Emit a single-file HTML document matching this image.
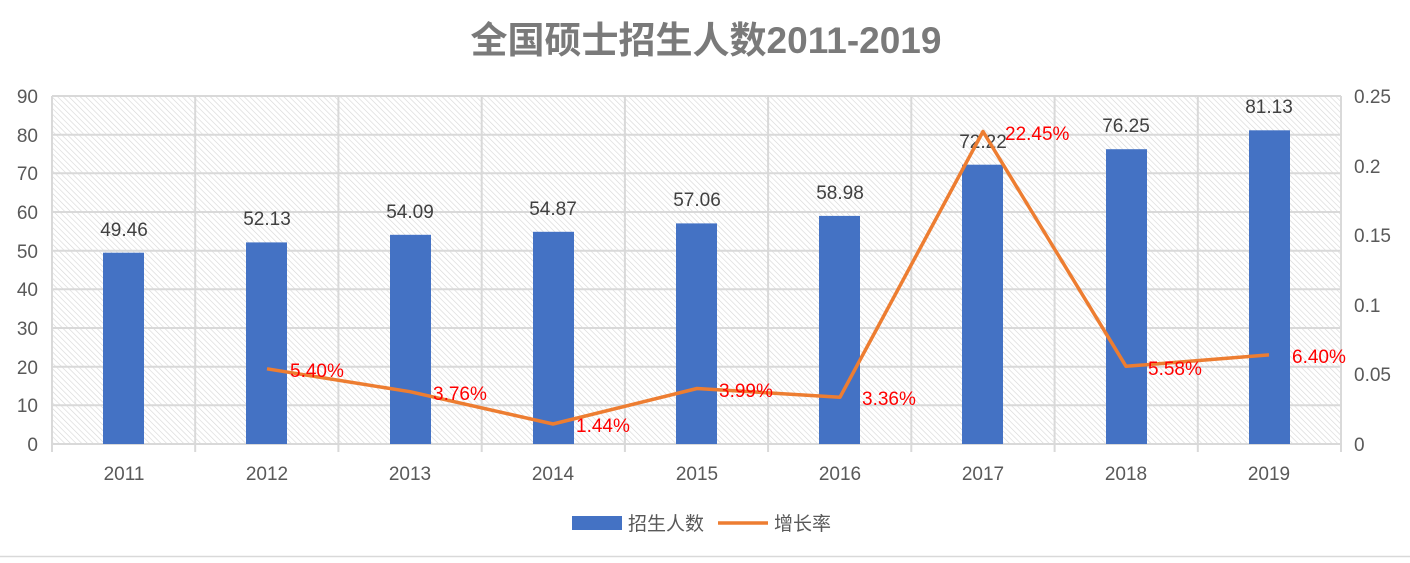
<!DOCTYPE html>
<html><head><meta charset="utf-8"><style>
html,body{margin:0;padding:0;background:#fff;}
svg text{font-family:"Liberation Sans","Noto Sans CJK SC",sans-serif;}
</style></head><body>
<svg width="1410" height="558" viewBox="0 0 1410 558" xmlns="http://www.w3.org/2000/svg">
<defs>
<pattern id="h" width="4" height="4" patternUnits="userSpaceOnUse" patternTransform="rotate(-45)">
<rect width="4" height="4" fill="#fff"/><line x1="0" y1="0" x2="0" y2="4" stroke="#d6d6d6" stroke-width="1.2"/>
</pattern>
</defs>
<text x="706" y="53" font-size="37" fill="#7a7a7a" text-anchor="middle" font-weight="bold">全国硕士招生人数2011-2019</text>
<rect x="52" y="96" width="1289" height="348" fill="url(#h)"/>
<g stroke="#d9d9d9" stroke-width="2">
<line x1="52" y1="96" x2="1341" y2="96"/><line x1="52" y1="134.7" x2="1341" y2="134.7"/><line x1="52" y1="173.3" x2="1341" y2="173.3"/><line x1="52" y1="212" x2="1341" y2="212"/><line x1="52" y1="250.7" x2="1341" y2="250.7"/><line x1="52" y1="289.3" x2="1341" y2="289.3"/><line x1="52" y1="328" x2="1341" y2="328"/><line x1="52" y1="366.7" x2="1341" y2="366.7"/><line x1="52" y1="405.3" x2="1341" y2="405.3"/><line x1="52" y1="444" x2="1341" y2="444"/>
<line x1="52" y1="96" x2="52" y2="452"/><line x1="195.2" y1="96" x2="195.2" y2="452"/><line x1="338.4" y1="96" x2="338.4" y2="452"/><line x1="481.7" y1="96" x2="481.7" y2="452"/><line x1="624.9" y1="96" x2="624.9" y2="452"/><line x1="768.1" y1="96" x2="768.1" y2="452"/><line x1="911.3" y1="96" x2="911.3" y2="452"/><line x1="1054.6" y1="96" x2="1054.6" y2="452"/><line x1="1197.8" y1="96" x2="1197.8" y2="452"/><line x1="1341" y1="96" x2="1341" y2="452"/>
</g>
<g font-size="19" fill="#595959" text-anchor="end">
<text x="38" y="103">90</text><text x="38" y="142">80</text><text x="38" y="180">70</text><text x="38" y="219">60</text><text x="38" y="258">50</text><text x="38" y="296">40</text><text x="38" y="335">30</text><text x="38" y="374">20</text><text x="38" y="412">10</text><text x="38" y="451">0</text>
</g>
<g font-size="19" fill="#595959" text-anchor="start">
<text x="1354" y="103">0.25</text><text x="1354" y="173">0.2</text><text x="1354" y="242">0.15</text><text x="1354" y="312">0.1</text><text x="1354" y="381">0.05</text><text x="1354" y="451">0</text>
</g>
<g fill="#4472c4">
<rect x="103" y="252.7" width="41" height="191.3"/>
<rect x="246" y="242.4" width="41" height="201.6"/>
<rect x="390" y="234.8" width="41" height="209.2"/>
<rect x="533" y="231.8" width="41" height="212.2"/>
<rect x="676" y="223.4" width="41" height="220.6"/>
<rect x="819" y="215.9" width="41" height="228.1"/>
<rect x="962" y="164.7" width="41" height="279.3"/>
<rect x="1106" y="149.2" width="41" height="294.8"/>
<rect x="1249" y="130.3" width="41" height="313.7"/>
</g>
<g font-size="19" fill="#404040" text-anchor="middle">
<text x="124" y="236">49.46</text><text x="267" y="225">52.13</text><text x="410" y="218">54.09</text><text x="553" y="215">54.87</text><text x="697" y="206">57.06</text><text x="840" y="199">58.98</text><text x="983" y="148">72.22</text><text x="1126" y="132">76.25</text><text x="1269" y="113">81.13</text>
</g>
<polyline points="267,368.8 410,391.7 553,424 697,388.5 840,397.2 983,131.5 1126,366.3 1269,354.9" fill="none" stroke="#ed7d31" stroke-width="3.5" stroke-linejoin="round"/>
<g font-size="19" fill="#ff0000">
<text x="290" y="377">5.40%</text><text x="433" y="400">3.76%</text><text x="576" y="432">1.44%</text><text x="719" y="397">3.99%</text><text x="862" y="405">3.36%</text><text x="1005" y="140">22.45%</text><text x="1148" y="375">5.58%</text><text x="1292" y="363">6.40%</text>
</g>
<g font-size="19" fill="#595959" text-anchor="middle">
<text x="124" y="480">2011</text><text x="267" y="480">2012</text><text x="410" y="480">2013</text><text x="553" y="480">2014</text><text x="697" y="480">2015</text><text x="840" y="480">2016</text><text x="983" y="480">2017</text><text x="1126" y="480">2018</text><text x="1269" y="480">2019</text>
</g>
<rect x="572" y="516" width="50" height="14" fill="#4472c4"/>
<text x="628" y="530" font-size="19" fill="#595959">招生人数</text>
<line x1="718" y1="523" x2="768" y2="523" stroke="#ed7d31" stroke-width="3.5"/>
<text x="774" y="530" font-size="19" fill="#595959">增长率</text>
<line x1="0" y1="556.5" x2="1410" y2="556.5" stroke="#d9d9d9" stroke-width="1.5"/>
</svg>
</body></html>
